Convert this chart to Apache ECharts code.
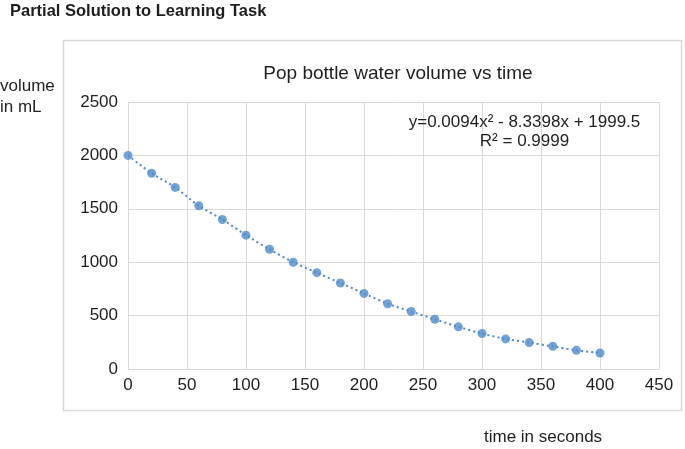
<!DOCTYPE html>
<html>
<head>
<meta charset="utf-8">
<script src="https://cdn.jsdelivr.net/npm/echarts@6/dist/echarts.min.js"></script>
<style>
html,body{margin:0;padding:0;background:#fff;}
#chart{width:685px;height:449px;}
</style>
</head>
<body>
<div id="chart"></div>
<script>
var timeSeconds = [0, 20, 40, 60, 80, 100, 120, 140, 160, 180, 200, 220, 240, 260, 280, 300, 320, 340, 360, 380, 400];
var volumeML = [2000, 1833, 1700, 1528, 1400, 1253, 1121, 1000, 902, 805, 708, 611, 538, 466, 395, 332, 282, 247, 212, 175, 150];
var pageTitle = 'Partial Solution to Learning Task';
var chartTitle = 'Pop bottle water volume vs time';
var yLabelLines = ['volume', 'in mL'];
var xLabel = 'time in seconds';
var equationLines = ['y=0.0094x\u00b2 - 8.3398x + 1999.5', 'R\u00b2 = 0.9999'];

var points = timeSeconds.map(function (t, i) { return [t, volumeML[i]]; });
var font = '"Liberation Sans", Arial, Helvetica, sans-serif';
var blue = '#4f8bcb';
var gridColor = '#d9d9d9';
var textColor = '#1e1e1e';

var chart = echarts.init(document.getElementById('chart'), null, { renderer: 'canvas' });
chart.setOption({
  animation: false,
  backgroundColor: '#fff',
  textStyle: { fontFamily: font },
  title: {
    text: chartTitle,
    left: 393, top: 59, textAlign: 'center',
    textStyle: { fontFamily: font, fontSize: 19, fontWeight: 'normal', color: textColor }
  },
  grid: { left: 128, right: 26, top: 102, bottom: 80 },
  xAxis: {
    type: 'value', min: 0, max: 450, interval: 50,
    axisLine: { show: true, lineStyle: { color: gridColor, width: 1 } },
    axisTick: { show: false },
    axisLabel: { fontFamily: font, fontSize: 17, color: textColor, margin: 8,
      formatter: function (v) { return String(v); } },
    splitLine: { show: true, lineStyle: { color: gridColor, width: 1 } }
  },
  yAxis: {
    type: 'value', min: 0, max: 2500, interval: 500,
    axisLine: { show: false },
    axisTick: { show: false },
    axisLabel: { fontFamily: font, fontSize: 17, color: textColor, margin: 10,
      formatter: function (v) { return String(v); } },
    splitLine: { show: true, lineStyle: { color: gridColor, width: 1 } }
  },
  series: [
    {
      type: 'line',
      data: points,
      smooth: 0.3,
      showSymbol: false,
      symbol: 'none',
      lineStyle: { color: blue, width: 2, type: [2, 3] },
      z: 2
    },
    {
      type: 'scatter',
      data: points,
      symbol: 'circle',
      symbolSize: 9,
      itemStyle: { color: blue },
      z: 3
    }
  ],
  graphic: [
    {
      type: 'rect', silent: true, z: -1,
      shape: { x: 63.5, y: 40.5, width: 618, height: 370 },
      style: { fill: 'none', stroke: gridColor, lineWidth: 1.5 }
    },
    {
      type: 'text', left: 10, top: 3,
      style: { text: pageTitle, font: 'bold 16.5px ' + font, fill: textColor }
    },
    {
      type: 'text', left: 0, top: 76,
      style: { text: yLabelLines.join('\n'), font: '17px ' + font, fill: textColor, lineHeight: 21 }
    },
    {
      type: 'text', left: 484, top: 429,
      style: { text: xLabel, font: '17px ' + font, fill: textColor }
    },
    {
      type: 'text', x: 524.5, y: 113, z: 10,
      style: { text: equationLines.join('\n'), font: '17px ' + font, fill: textColor,
        align: 'center', lineHeight: 19, backgroundColor: 'rgba(255,255,255,0)' }
    }
  ]
});
</script>
</body>
</html>
